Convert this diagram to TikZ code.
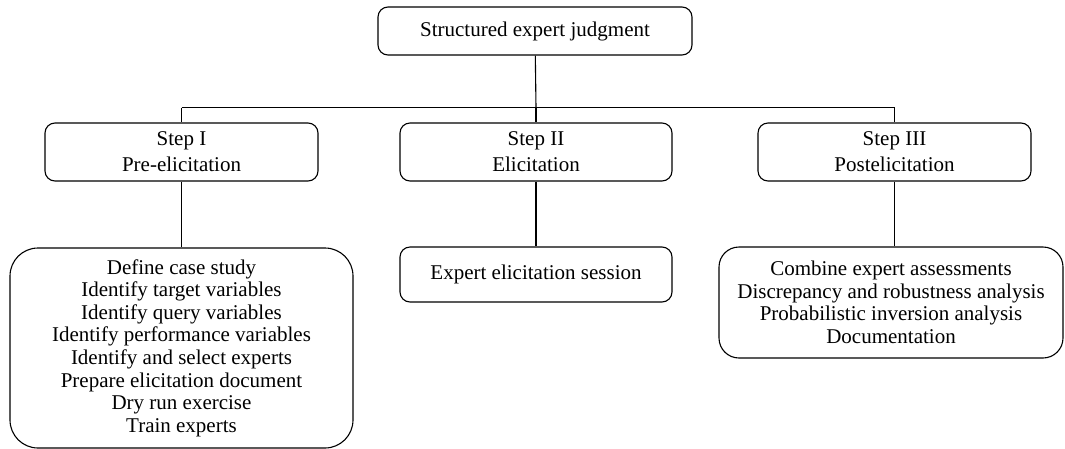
\documentclass[tikz,border=0pt]{standalone}
\usepackage{fontspec}
\setmainfont{Liberation Serif}
\usetikzlibrary{positioning}
\usetikzlibrary{calc}

\tikzset{
  stagebox/.style={draw, rounded corners=10pt, align=center, inner sep=0pt, font=\fontsize{21}{22.6}\selectfont},
  stepbox/.style={stagebox, minimum width=273, minimum height=58, font=\fontsize{21}{26}\selectfont},
  link/.style={draw, line width=1.1pt}
}

\begin{document}
\begin{tikzpicture}[x=1pt,y=-1pt,line width=1.1pt]
\useasboundingbox (0,0) rectangle (1065,448);
\node[stagebox, minimum width=314, minimum height=48](root) at (535,31){Structured expert judgment};
\node[stepbox](stepI) at (181.5,152){Step I\\Pre-elicitation};
\node[stepbox, minimum width=272](stepII) at (536,152){Step II\\Elicitation};
\node[stepbox](stepIII) at (894.5,152){Step III\\Postelicitation};
\node[stagebox, rounded corners=28pt, minimum width=343, minimum height=200](taskI) at (181.5,348){Define case study\\Identify target variables\\Identify query variables\\Identify performance variables\\Identify and select experts\\Prepare elicitation document\\Dry run exercise\\Train experts};
\node[stagebox, minimum width=272, minimum height=55](taskII) at (536,274.5){Expert elicitation session};
\node[stagebox, rounded corners=20pt, minimum width=344, minimum height=111](taskIII) at (891,302.5){Combine expert assessments\\Discrepancy and robustness analysis\\Probabilistic inversion analysis\\Documentation};

\coordinate(jI) at (stepI.north |- 0,107.5);
\coordinate(jII) at (stepII.north |- 0,107.5);
\coordinate(jIII) at (stepIII.north |- 0,107.5);

\path
(root) edge[link] (jII)
(jI) edge[link] (jIII)
(jI) edge[link] (stepI)
(jII) edge[link] (stepII)
(jIII) edge[link] (stepIII)
(stepI) edge[link] (stepI |- taskI.north)
(stepII) edge[link] (taskII)
(stepIII) edge[link] (stepIII |- taskIII.north);
\end{tikzpicture}
\end{document}
